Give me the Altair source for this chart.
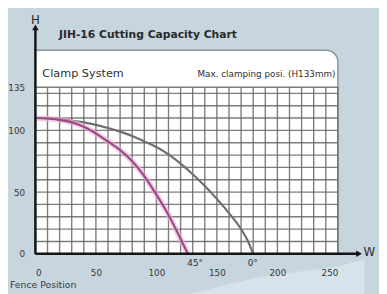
import altair as alt
import pandas as pd

# ---- data ----
fence_0 = [0, 20, 40, 60, 70, 80, 90, 100, 110, 120, 130, 140, 150, 160, 170, 175, 180]
height_0 = [110, 109, 106.5, 102, 99, 95.5, 91, 86.5, 80.5, 73, 64.5, 55, 44.5, 33, 20, 11.5, 0]
fence_45 = [0, 20, 40, 60, 70, 80, 90, 100, 108, 116, 122, 126]
height_45 = [110, 108.5, 103, 91, 84, 75, 63, 48, 35, 20, 8, 0]

x_ticks = [0, 50, 100, 150, 200, 250]
y_ticks = [0, 50, 100, 135]
grid_x = list(range(0, 251, 10))
grid_y = list(range(0, 131, 10)) + [135]

FONT = "DejaVu Sans"
xs = alt.Scale(domain=[0, 250], nice=False, zero=False)
ys = alt.Scale(domain=[0, 165], nice=False, zero=False)
x_axis = alt.Axis(values=x_ticks, title=None, domain=False, ticks=False, tickSize=0, grid=False, zindex=2,
                  labelFont=FONT, labelFontSize=9, labelColor="#3a3a3a", labelPadding=15)
y_axis = alt.Axis(values=y_ticks, title=None, domain=False, ticks=False, tickSize=0, grid=False, zindex=2,
                  labelFont=FONT, labelFontSize=9, labelColor="#3a3a3a", labelPadding=11)

def X(f):
    return alt.X(f, type="quantitative", scale=xs, axis=x_axis, title=None)

def Y(f):
    return alt.Y(f, type="quantitative", scale=ys, axis=y_axis, title=None)

# lighter swoosh in the lower right of the background
swoosh = alt.Chart(pd.DataFrame({"x": [100, 180, 272, 272], "lo": [-40, -40, -40, -40],
                                 "hi": [-40, -20, -4, 3]})).mark_area(
    color="#dbe6ec", opacity=0.8, interpolate="monotone").encode(x=X("x"), y=Y("lo"), y2="hi")

# white panel
panel = alt.Chart(pd.DataFrame({"x": [0], "x2": [250], "y": [0], "y2": [165]})).mark_rect(
    color="white", stroke="#86979f", strokeWidth=1.5, cornerRadiusTopRight=12
).encode(x=X("x"), x2="x2", y=Y("y"), y2="y2")

vgrid = alt.Chart(pd.DataFrame({"x": grid_x, "y": 0, "y2": 135})).mark_rule(
    color="#666666", strokeWidth=1.4, opacity=0.85
).encode(x=X("x"), y=Y("y"), y2="y2")

hgrid = alt.Chart(pd.DataFrame({"y": grid_y, "x": 0, "x2": 250})).mark_rule(
    color="#666666", strokeWidth=1.4, opacity=0.85
).encode(y=Y("y"), x=X("x"), x2="x2")

df0 = pd.DataFrame({"w": fence_0, "h": height_0})
df45 = pd.DataFrame({"w": fence_45, "h": height_45})

line0 = alt.Chart(df0).mark_line(color="#6e6e6e", strokeWidth=2.2, interpolate="monotone").encode(
    x=X("w"), y=Y("h"))
glow45 = alt.Chart(df45).mark_line(color="#eab0d8", strokeWidth=6, opacity=0.6, interpolate="monotone").encode(
    x=X("w"), y=Y("h"))
line45 = alt.Chart(df45).mark_line(color="#9a4a84", strokeWidth=2.2, interpolate="monotone").encode(
    x=X("w"), y=Y("h"))

# axes with arrows
haxis = alt.Chart(pd.DataFrame({"x": [0], "x2": [267], "y": [0]})).mark_rule(
    color="#151515", strokeWidth=2.5).encode(x=X("x"), x2="x2", y=Y("y"))
vaxis = alt.Chart(pd.DataFrame({"x": [0], "y": [0], "y2": [183]})).mark_rule(
    color="#151515", strokeWidth=2.5).encode(x=X("x"), y=Y("y"), y2="y2")
harrow = alt.Chart(pd.DataFrame({"x": [267.5], "y": [0]})).mark_point(
    shape="triangle-right", filled=True, color="#151515", size=45, opacity=1).encode(x=X("x"), y=Y("y"))
varrow = alt.Chart(pd.DataFrame({"x": [0], "y": [183.5]})).mark_point(
    shape="triangle-up", filled=True, color="#151515", size=45, opacity=1).encode(x=X("x"), y=Y("y"))

def label(text, x, y, size, align="left", weight="normal", color="#2f2f2f"):
    return alt.Chart(pd.DataFrame({"t": [text], "x": [x], "y": [y]})).mark_text(
        font=FONT, fontSize=size, align=align, baseline="middle", fontWeight=weight, color=color
    ).encode(x=X("x"), y=Y("y"), text="t:N")

texts = [
    label("JIH-16 Cutting Capacity Chart", 19.4, 177, 11, weight="bold", color="#2a2a2a"),
    label("H", 0, 189, 12, align="center", color="#2a2a2a"),
    label("W", 276, 1.5, 12, align="center", color="#2a2a2a"),
    label("Clamp System", 5.7, 146, 11.5),
    label("Max. clamping posi. (H133mm)", 248, 146, 9, align="right"),
    label("45°", 132, -7.5, 9, align="center"),
    label("0°", 179.6, -7.5, 9, align="center"),
    label("Fence Position", -21, -25.4, 9.5, color="#3a3a3a"),
]

chart = alt.layer(swoosh, panel, vgrid, hgrid, line0, glow45, line45, haxis, vaxis, harrow, varrow,
                  *texts).properties(
    width=309, height=208,
    padding={"left": 28, "top": 40, "right": 42, "bottom": 38},
    autosize=alt.AutoSizeParams(type="none"),
    background="#c6d5de",
).configure_view(stroke=None)

chart.save("out.html", embed_options={"renderer": "svg", "actions": False})
